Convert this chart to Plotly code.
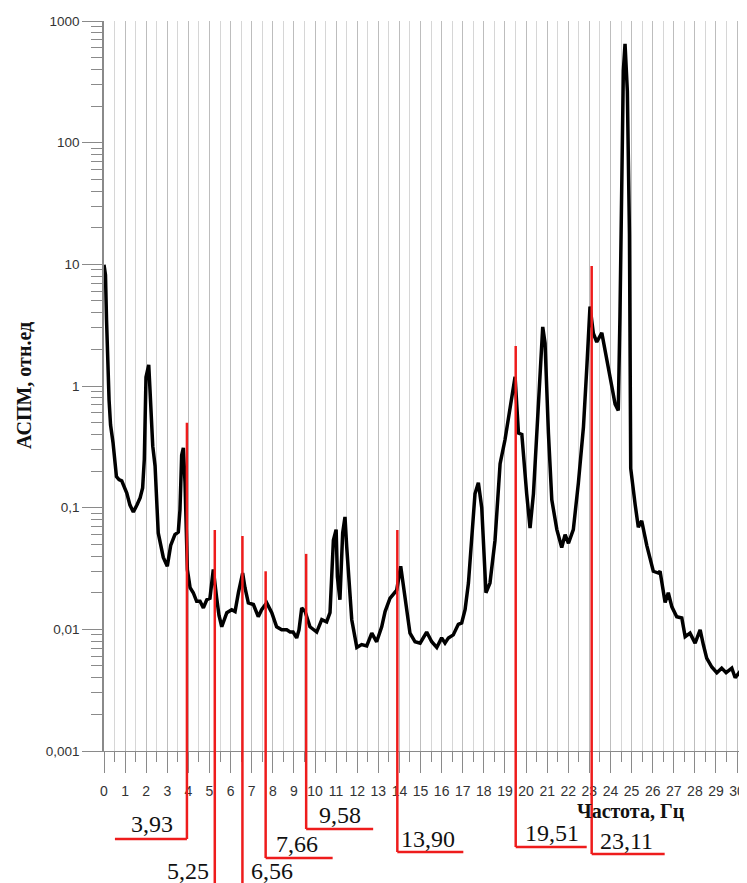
import plotly.graph_objects as go

# ---- data ----
freq_hz = [0.00, 0.07, 0.12, 0.17, 0.24, 0.31, 0.43, 0.59, 0.71, 0.84, 1.08, 1.23, 1.39, 1.56, 1.71,
           1.83, 1.91, 1.99, 2.12, 2.18, 2.31, 2.42, 2.57, 2.81, 3.00, 3.16, 3.36, 3.52, 3.60, 3.68,
           3.76, 3.84, 3.95, 4.08, 4.23, 4.39, 4.55, 4.71, 4.87, 5.02, 5.18, 5.34, 5.45, 5.58, 5.82,
           6.05, 6.21, 6.37, 6.57, 6.68, 6.84, 7.08, 7.31, 7.47, 7.71, 7.95, 8.18, 8.42, 8.66, 8.82,
           8.96, 9.13, 9.24, 9.37, 9.53, 9.76, 10.08, 10.32, 10.55, 10.71, 10.87, 11.00, 11.06, 11.18,
           11.31, 11.42, 11.50, 11.74, 11.98, 12.21, 12.45, 12.69, 12.92, 13.16, 13.32, 13.55, 13.87,
           14.06, 14.27, 14.50, 14.74, 14.98, 15.29, 15.53, 15.77, 16.00, 16.16, 16.32, 16.55, 16.79,
           16.95, 17.11, 17.27, 17.43, 17.58, 17.74, 17.90, 18.10, 18.29, 18.53, 18.77, 19.00, 19.24,
           19.48, 19.64, 19.80, 20.03, 20.19, 20.35, 20.58, 20.79, 20.90, 21.06, 21.22, 21.46, 21.69,
           21.85, 22.01, 22.24, 22.48, 22.72, 22.88, 23.03, 23.19, 23.35, 23.59, 23.82, 24.06, 24.22,
           24.37, 24.45, 24.54, 24.61, 24.69, 24.80, 24.90, 24.96, 25.17, 25.32, 25.48, 25.72, 26.03,
           26.27, 26.35, 26.59, 26.74, 26.91, 27.14, 27.38, 27.54, 27.77, 28.01, 28.25, 28.40, 28.56,
           28.80, 29.04, 29.27, 29.48, 29.75, 29.91, 30.14, 30.38, 30.47]

aspm = [9.9, 8.2, 3.5, 1.35, 0.77, 0.48, 0.34, 0.18, 0.17, 0.166, 0.132, 0.105, 0.092, 0.105, 0.12,
        0.145, 0.25, 1.18, 1.49, 0.93, 0.32, 0.22, 0.062, 0.039, 0.033, 0.049, 0.06, 0.063, 0.096, 0.27,
        0.31, 0.16, 0.031, 0.022, 0.020, 0.017, 0.017, 0.015, 0.0175, 0.018, 0.031, 0.018, 0.013, 0.0105, 0.0137,
        0.0145, 0.014, 0.020, 0.029, 0.022, 0.0165, 0.016, 0.0127, 0.0145, 0.0165, 0.0137, 0.0105, 0.0099, 0.0099, 0.0095,
        0.0095, 0.0085, 0.0099, 0.015, 0.014, 0.0105, 0.0095, 0.012, 0.0115, 0.0137, 0.054, 0.066, 0.027, 0.0175,
        0.062, 0.084, 0.048, 0.012, 0.0071, 0.0075, 0.0073, 0.0093, 0.0079, 0.0105, 0.014, 0.018, 0.021,
        0.033, 0.018, 0.0093, 0.0079, 0.0077, 0.0095, 0.0079, 0.0071, 0.0085, 0.0077, 0.0085, 0.009, 0.011,
        0.0113, 0.0145, 0.024, 0.054, 0.13, 0.16, 0.10, 0.020, 0.024, 0.054, 0.23, 0.36, 0.63,
        1.19, 0.41, 0.40, 0.13, 0.068, 0.13, 0.77, 3.06, 2.25, 0.41, 0.116, 0.066, 0.047,
        0.06, 0.051, 0.066, 0.16, 0.46, 1.43, 4.5, 2.7, 2.3, 2.73, 1.73, 1.0, 0.71,
        0.63, 3.76, 82, 388, 650, 265, 17.5, 0.21, 0.106, 0.069, 0.078, 0.049, 0.030,
        0.029, 0.030, 0.0166, 0.020, 0.0153, 0.0127, 0.0124, 0.0087, 0.0093, 0.0077, 0.0099, 0.0075, 0.0058,
        0.0049, 0.0044, 0.0048, 0.0044, 0.0048, 0.0040, 0.0045, 0.0040, 0.0041]

# marked peak frequencies (red markers), their labels and marker tops
peak_freqs = [3.93, 5.25, 6.56, 7.66, 9.58, 13.90, 19.51, 23.11]
peak_labels = ["3,93", "5,25", "6,56", "7,66", "9,58", "13,90", "19,51", "23,11"]
peak_tops = [0.50, 0.0655, 0.0585, 0.030, 0.0417, 0.0655, 2.13, 9.7]

x_tick_vals = list(range(0, 31))
x_tick_labels = [str(v) for v in x_tick_vals]
y_tick_vals = [0.001, 0.01, 0.1, 1, 10, 100, 1000]
y_tick_labels = ["0,001", "0,01", "0,1", "1", "10", "100", "1000"]

x_title = "Частота, Гц"
y_title = "АСПМ, отн.ед"

# ---- layout geometry (page pixels; the page body adds an 8px offset) ----
OFF = 8
PAGE_W, PAGE_H = 747, 883
W, H = PAGE_W - OFF, PAGE_H - OFF
PLOT_L, PLOT_R, PLOT_T, PLOT_B = 104, 747, 21, 751   # page pixels of the plot area
ML, MT = PLOT_L - OFF, PLOT_T - OFF
MR = (W + OFF) - PLOT_R
MB = (H + OFF) - PLOT_B
PH = PLOT_B - PLOT_T
PW = PLOT_R - PLOT_L
def py2paper(py):
    return (PLOT_B - py) / PH
def px2paper(px):
    return (px - PLOT_L) / PW

line_bottom_px = [839, 895, 895, 858, 829, 852, 847, 854]
hline_len_px = [-72, 0, 0, 67, 67, 66, 71, 73]
label_dx_px = [-34.5, -27, 29.5, 31.5, 33.5, 31, 36.5, 35]
label_y_px = [823.5, 871, 871, 843.5, 815, 839, 833, 841]

RED = "#ee1c1c"
SERIF = "Liberation Serif, Times New Roman, serif"
SANS = "Liberation Sans, Arial, sans-serif"

fig = go.Figure()
fig.add_trace(go.Scatter(x=freq_hz, y=aspm, mode="lines",
                         line=dict(color="black", width=3.5), showlegend=False,
                         hoverinfo="skip"))

shapes = []
annotations = []
for f, lab, top, yb, hl, dx, ly in zip(peak_freqs, peak_labels, peak_tops, line_bottom_px,
                                       hline_len_px, label_dx_px, label_y_px):
    shapes.append(dict(type="line", xref="x", yref="y", x0=f, x1=f, y0=top, y1=y_tick_vals[0],
                       line=dict(color=RED, width=2.5), layer="above"))
    shapes.append(dict(type="line", xref="x", yref="paper", x0=f, x1=f, y0=0, y1=py2paper(yb),
                       line=dict(color=RED, width=2.5), layer="above"))
    if hl != 0:
        shapes.append(dict(type="line", xref="x", xsizemode="pixel", xanchor=f, x0=0, x1=hl,
                           yref="paper", y0=py2paper(yb), y1=py2paper(yb),
                           line=dict(color=RED, width=2.5), layer="above"))
    annotations.append(dict(text=lab, xref="x", x=f, xshift=dx, xanchor="center",
                            yref="paper", y=py2paper(ly), yanchor="middle", showarrow=False,
                            font=dict(family=SERIF, size=24, color="#111")))

annotations.append(dict(text="<b>" + y_title + "</b>", xref="paper", yref="paper",
                        x=px2paper(24), y=0.5, xanchor="center", yanchor="middle",
                        textangle=-90, showarrow=False,
                        font=dict(family=SERIF, size=20, color="#111")))
annotations.append(dict(text="<b>" + x_title + "</b>", xref="paper", yref="paper",
                        x=px2paper(631), y=py2paper(811), xanchor="center", yanchor="middle",
                        showarrow=False, font=dict(family=SERIF, size=20, color="#111")))

minor_y = [m * 10 ** k for k in range(-3, 3) for m in range(2, 10)]

fig.update_layout(
    width=W, height=H,
    margin=dict(l=ML, r=MR, t=MT, b=MB, pad=0),
    paper_bgcolor="white", plot_bgcolor="white",
    shapes=shapes, annotations=annotations,
    showlegend=False,
    xaxis=dict(range=[0, 30.47], tickmode="array", tickvals=x_tick_vals, ticktext=x_tick_labels,
               ticks="outside", ticklen=21, tickwidth=1.3, tickcolor="#8a8a8a",
               ticklabelstandoff=6,
               showline=True, linecolor="#8a8a8a", linewidth=1.3,
               showgrid=True, gridcolor="#bdbdbd", gridwidth=1, zeroline=False,
               tickfont=dict(family=SANS, size=14, color="#333"),
               minor=dict(dtick=0.5, tick0=0, ticks="outside", ticklen=10, tickwidth=1.3,
                          tickcolor="#8a8a8a", showgrid=True, gridcolor="#d6d6d6", gridwidth=1)),
    yaxis=dict(type="log", range=[-3, 3], tickmode="array", tickvals=y_tick_vals,
               ticktext=y_tick_labels, ticks="outside", ticklen=20, tickwidth=1.3,
               tickcolor="#8a8a8a", showline=True, linecolor="#8a8a8a", linewidth=1.5,
               showgrid=False, zeroline=False,
               tickfont=dict(family=SANS, size=13.5, color="#333"),
               minor=dict(tickmode="array", tickvals=minor_y, ticks="outside", ticklen=11,
                          tickwidth=1.3, tickcolor="#8a8a8a", showgrid=False)),
)

fig.write_html("out.html")
